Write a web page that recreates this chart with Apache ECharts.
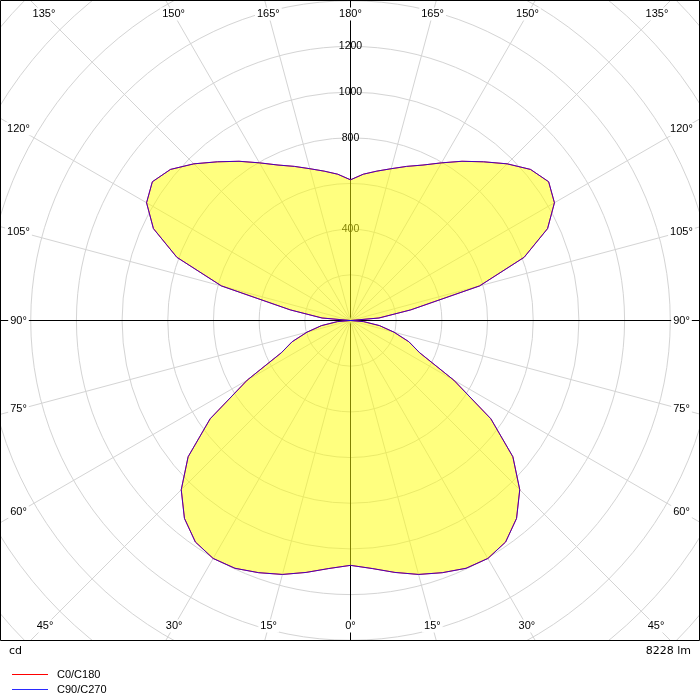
<!DOCTYPE html>
<html>
<head>
<meta charset="utf-8">
<script src="https://cdn.jsdelivr.net/npm/echarts@6/dist/echarts.min.js"></script>
<style>
  html, body { margin: 0; padding: 0; background: #fff; }
  #main { width: 700px; height: 700px; }
</style>
</head>
<body>
<div id="main"></div>
<script>
// ---- data ----
const gammaDeg = [0, 5, 10, 15, 20, 25, 30, 35, 40, 45, 50, 55, 60, 65, 70, 75, 80, 85, 90,
                  95, 100, 105, 110, 115, 120, 125, 130, 135, 140, 145, 150, 155, 160, 165, 170, 175, 180];
const c0c180 = [1072, 1090, 1120, 1151, 1175, 1197, 1203, 1184, 1131, 1048, 928, 750, 522, 334, 272, 197, 129, 58, 0,
                125, 268, 585, 809, 952, 1031, 1059, 1029, 970, 907, 851, 797, 751, 718, 688, 664, 643, 616];
const c90c270 = [1072, 1090, 1120, 1151, 1175, 1197, 1203, 1184, 1131, 1048, 928, 750, 522, 334, 272, 197, 129, 58, 0,
                125, 268, 585, 809, 952, 1031, 1059, 1029, 970, 907, 851, 797, 751, 718, 688, 664, 643, 616];
const seriesNames = ['C0/C180', 'C90/C270'];
const seriesColors = ['#ff0000', '#2a2aff'];
const radiusLabels = [400, 800, 1000, 1200];
const angleTickStep = 15;
const unitLabel = 'cd';
const fluxLabel = '8228 lm';

// ---- layout ----
const CX = 350.5, CY = 320.5;
const R_MAX = 2200;
const R_PX = 502.5;

function loop(vals) {
  const out = [];
  for (let i = gammaDeg.length - 1; i >= 0; i--) out.push([vals[i], 180 - gammaDeg[i]]);
  for (let i = 1; i < gammaDeg.length; i++) out.push([vals[i], 180 + gammaDeg[i]]);
  return out;
}

// angle labels on inset rectangle along each ray
const inset = { left: 18.5, right: 681.5, top: 14, bottom: 626 };
const angleLabelEls = [];
for (let phi = 0; phi < 360; phi += angleTickStep) {
  const rad = phi * Math.PI / 180;
  const dx = Math.sin(rad), dy = -Math.cos(rad);
  let t = Infinity;
  if (Math.abs(dx) > 1e-9) t = Math.min(t, dx > 0 ? (inset.right - CX) / dx : (inset.left - CX) / dx);
  if (Math.abs(dy) > 1e-9) t = Math.min(t, dy > 0 ? (inset.bottom - CY) / dy : (inset.top - CY) / dy);
  const g = phi <= 180 ? 180 - phi : phi - 180;
  angleLabelEls.push({
    type: 'text', x: CX + dx * t, y: CY + dy * t, z: 40,
    style: {
      text: g + '°', fill: '#000', font: '11px "Liberation Sans"',
      align: 'center', verticalAlign: 'middle',
      backgroundColor: '#fff', padding: [1, 2]
    }
  });
}

const gridGray = '#d4d4d4';
const chart = echarts.init(document.getElementById('main'), null, { renderer: 'canvas' });
chart.setOption({
  animation: false,
  backgroundColor: '#fff',
  polar: { center: [CX, CY], radius: R_PX },
  angleAxis: {
    type: 'value', min: 0, max: 360, interval: angleTickStep,
    startAngle: 90, clockwise: true,
    axisLine: { show: false }, axisTick: { show: false }, axisLabel: { show: false },
    splitLine: { show: true, lineStyle: { width: 1, color: ['#000', gridGray, gridGray, gridGray, gridGray, gridGray] } }
  },
  radiusAxis: {
    type: 'value', min: 0, max: R_MAX, interval: 200,
    axisLine: { show: false }, axisTick: { show: false },
    axisLabel: {
      margin: 0, align: 'center', verticalAlign: 'middle',
      color: '#000', fontFamily: 'Liberation Sans', fontSize: 10.5,
      formatter: v => radiusLabels.includes(v) ? String(v) : ''
    },
    splitLine: { show: true, lineStyle: { color: gridGray, width: 1 } }
  },
  legend: {
    orient: 'vertical', left: 7, top: 662.5, height: 60,
    itemWidth: 36, itemHeight: 1, itemGap: 1,
    icon: 'rect',
    selectedMode: false, z: 60,
    textStyle: { fontFamily: 'Liberation Sans', fontSize: 11, lineHeight: 14, color: '#000', padding: [0, 0, 0, 4] },
    data: seriesNames.map((n, i) => ({ name: n, itemStyle: { color: seriesColors[i] } }))
  },
  series: [
    {
      name: seriesNames[0], type: 'line', coordinateSystem: 'polar',
      data: loop(c0c180), symbol: 'none', z: 2,
      lineStyle: { color: seriesColors[0], width: 1 }, itemStyle: { color: seriesColors[0] },
      areaStyle: { color: 'rgba(255,255,0,0.5)', opacity: 1 }
    },
    {
      name: seriesNames[1], type: 'line', coordinateSystem: 'polar',
      data: loop(c90c270), symbol: 'none', z: 3,
      lineStyle: { color: 'rgba(0,0,255,0.72)', width: 1 }, itemStyle: { color: seriesColors[1] }
    }
  ],
  graphic: [
    { type: 'rect', z: 50, shape: { x: 0, y: 641, width: 700, height: 59 }, style: { fill: '#fff' } },
    { type: 'rect', z: 55, shape: { x: 0.5, y: 0.5, width: 699, height: 640 }, style: { fill: 'none', stroke: '#000', lineWidth: 1 } },
    { type: 'text', z: 60, x: 9, y: 651, style: { text: unitLabel, fill: '#000', font: '11px "DejaVu Sans"', align: 'left', verticalAlign: 'middle' } },
    { type: 'text', z: 60, x: 691, y: 651, style: { text: fluxLabel, fill: '#000', font: '11px "DejaVu Sans"', align: 'right', verticalAlign: 'middle' } }
  ].concat(angleLabelEls)
});
</script>
</body>
</html>
